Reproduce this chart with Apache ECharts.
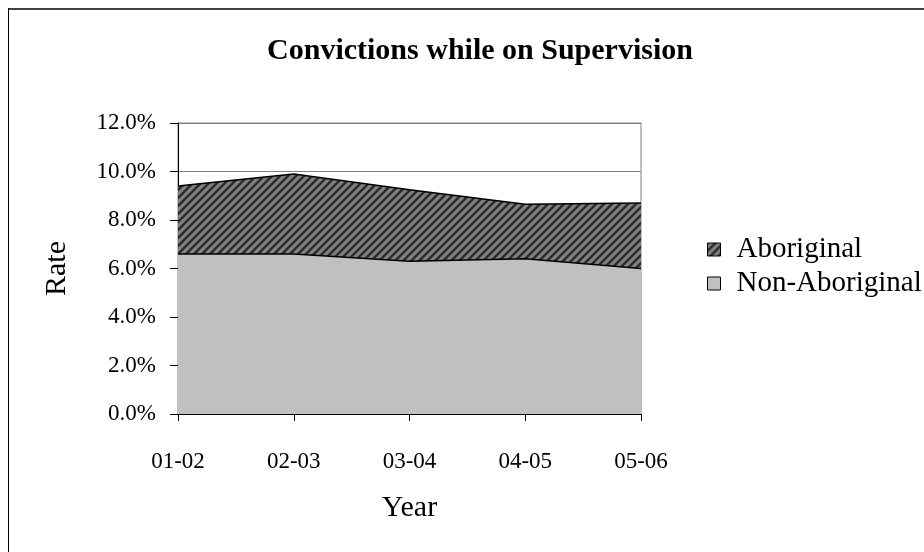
<!DOCTYPE html>
<html>
<head>
<meta charset="utf-8">
<script src="https://cdn.jsdelivr.net/npm/echarts@6/dist/echarts.min.js"></script>
<style>
html,body{margin:0;padding:0;background:#fff;}
#c{width:924px;height:552px;}
</style>
</head>
<body>
<div id="c"></div>
<script>
var categories = ['01-02', '02-03', '03-04', '04-05', '05-06'];
var nonAboriginal = [6.6, 6.6, 6.3, 6.4, 6.0];
var aboriginal = [2.8, 3.3, 2.95, 2.25, 2.7];
var yTicks = { min: 0, max: 12, interval: 2 };

function makePattern() {
  var s = 8;
  var cv = document.createElement('canvas');
  cv.width = s; cv.height = s;
  var ctx = cv.getContext('2d');
  ctx.fillStyle = '#808080';
  ctx.fillRect(0, 0, s, s);
  ctx.strokeStyle = '#2a2a2a';
  ctx.lineWidth = 2.4;
  ctx.beginPath();
  ctx.moveTo(0, s); ctx.lineTo(s, 0);
  ctx.moveTo(-s, s); ctx.lineTo(0, 0);
  ctx.moveTo(s, 2 * s); ctx.lineTo(2 * s, s);
  ctx.moveTo(-1, 1); ctx.lineTo(1, -1);
  ctx.moveTo(s - 1, s + 1); ctx.lineTo(s + 1, s - 1);
  ctx.stroke();
  return cv;
}

var FONT = '"Liberation Serif", "Times New Roman", serif';
var chart = echarts.init(document.getElementById('c'));
var hatch = { image: makePattern(), repeat: 'repeat' };

chart.setOption({
  animation: false,
  backgroundColor: '#fff',
  title: {
    text: 'Convictions while on Supervision',
    left: 475, top: 31, textAlign: 'center',
    textStyle: { fontFamily: FONT, fontSize: 30, fontWeight: 'bold', color: '#000' }
  },
  legend: {
    orient: 'vertical',
    left: 702, top: 229,
    itemWidth: 13, itemHeight: 13, itemGap: 3,
    icon: 'rect',
    textStyle: { fontFamily: FONT, fontSize: 29, lineHeight: 31, color: '#000', padding: [0, 0, 0, 11] },
    data: [
      { name: 'Aboriginal', itemStyle: { color: hatch, borderColor: '#000', borderWidth: 1 } },
      { name: 'Non-Aboriginal', itemStyle: { color: '#c0c0c0', borderColor: '#000', borderWidth: 1 } }
    ]
  },
  grid: {
    left: 178, top: 123, right: 283, bottom: 138,
    show: true, borderColor: '#808080', borderWidth: 1, backgroundColor: 'transparent'
  },
  xAxis: {
    type: 'category',
    data: categories,
    boundaryGap: false,
    name: 'Year',
    nameLocation: 'middle',
    nameGap: 79,
    nameTextStyle: { fontFamily: FONT, fontSize: 30, color: '#000' },
    axisLine: { lineStyle: { color: '#000', width: 1 } },
    axisTick: { show: true, length: 7, inside: false, lineStyle: { color: '#000' } },
    axisLabel: { fontFamily: FONT, fontSize: 23, color: '#000', margin: 36 },
    splitLine: { show: false }
  },
  yAxis: {
    type: 'value',
    min: yTicks.min, max: yTicks.max, interval: yTicks.interval,
    name: 'Rate',
    nameLocation: 'middle',
    nameGap: 106,
    nameRotate: 90,
    nameTextStyle: { fontFamily: FONT, fontSize: 30, color: '#000' },
    axisLine: { show: true, lineStyle: { color: '#000', width: 1 } },
    axisTick: { show: true, length: 8, inside: false, lineStyle: { color: '#000' } },
    axisLabel: {
      fontFamily: FONT, fontSize: 23, color: '#000', margin: 22,
      formatter: function (v) { return v.toFixed(1) + '%'; }
    },
    splitLine: { show: true, lineStyle: { color: '#808080', width: 1 } }
  },
  series: [
    {
      name: 'Non-Aboriginal', type: 'line', stack: 'total',
      data: nonAboriginal, symbol: 'none',
      lineStyle: { color: '#000', width: 1.5 },
      itemStyle: { color: '#c0c0c0' },
      areaStyle: { color: '#c0c0c0', opacity: 1 }
    },
    {
      name: 'Aboriginal', type: 'line', stack: 'total',
      data: aboriginal, symbol: 'none',
      lineStyle: { color: '#000', width: 1.5 },
      itemStyle: { color: hatch },
      areaStyle: { color: hatch, opacity: 1 }
    }
  ],
  graphic: [
    { type: 'line', shape: { x1: 8, y1: 9, x2: 924, y2: 9 }, style: { stroke: '#404040', lineWidth: 2 }, z: 100 },
    { type: 'line', shape: { x1: 8.5, y1: 8, x2: 8.5, y2: 552 }, style: { stroke: '#000', lineWidth: 1 }, z: 100 }
  ]
});
</script>
</body>
</html>
